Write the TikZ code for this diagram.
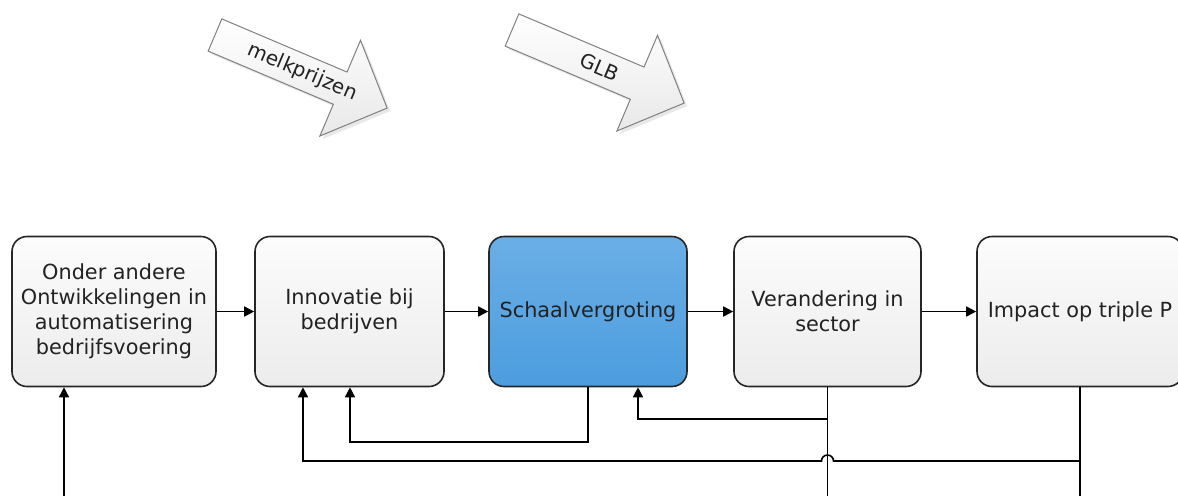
\documentclass[tikz,border=0pt]{standalone}
\usepackage{fontspec}
\setmainfont{DejaVu Sans}
\usepackage{xcolor}
\usepackage{tikz}
\usetikzlibrary{positioning,calc,arrows.meta,shadows}

\definecolor{boxtop}{HTML}{FCFCFC}
\definecolor{boxbot}{HTML}{ECECEC}
\definecolor{bluetop}{HTML}{6AAEE6}
\definecolor{bluebot}{HTML}{4C9DDE}
\definecolor{txt}{HTML}{222222}

\tikzset{
  stap/.style={draw=black!85, line width=0.8pt, rounded corners=7.5pt,
    top color=boxtop, bottom color=boxbot, minimum height=75pt,
    align=center, text=txt, font=\fontsize{10.4}{12.5}\selectfont, inner sep=2pt},
  kern/.style={stap, top color=bluetop, bottom color=bluebot},
  pijl/.style={-{Triangle[length=5pt,width=5pt]}, line width=0.8pt},
  lijn/.style={line width=0.8pt},
  blokpijl/.style={draw=black!50, line width=0.5pt, top color=white, bottom color=black!9,
    drop shadow={opacity=0.18, shadow xshift=1.5pt, shadow yshift=-1.5pt}},
}

\begin{document}
\begin{tikzpicture}[x=0.5pt, y=-0.5pt]
        \useasboundingbox (0,0) rectangle (1178,495);

        % invloeden van buiten
        \begin{scope}[shift={(215,35)}, rotate=-23]
            \draw[blokpijl] (0,-17.5) -- (136,-17.5) -- (136,-52) -- (187,0) -- (136,52) -- (136,17.5) -- (0,17.5) -- cycle;
            \node[rotate=-23, text=txt, font=\fontsize{10}{12}\selectfont] (melk) at (95,0) {melkprijzen};
        \end{scope}
        \begin{scope}[shift={(512,30)}, rotate=-23]
            \draw[blokpijl] (0,-17.5) -- (136,-17.5) -- (136,-52) -- (187,0) -- (136,52) -- (136,17.5) -- (0,17.5) -- cycle;
            \node[rotate=-23, text=txt, font=\fontsize{10}{12}\selectfont] (glb) at (95,0) {GLB};
        \end{scope}

        % keten
        \node[stap, minimum width=102pt] (ontw) at (114,311.5) {Onder andere\\Ontwikkelingen in\\automatisering\\bedrijfsvoering};
        \node[stap, minimum width=94.5pt] (innov) at (349.5,311.5) {Innovatie bij\\bedrijven};
        \node[kern, minimum width=99pt] (schaal) at (588,311.5) {Schaalvergroting};
        \node[stap, minimum width=93.5pt] (verand) at (827.5,311.5) {Verandering in\\sector};
        \node[stap, minimum width=103pt] (impact) at (1080,311.5) {Impact op triple P};

        \draw[pijl] (ontw) -- (innov);
        \draw[pijl] (innov) -- (schaal);
        \draw[pijl] (schaal) -- (verand);
        \draw[pijl] (verand) -- (impact);

        % terugkoppelingen
        \coordinate (k1) at (350,442);
        \coordinate (k2) at (638,419);
        \coordinate (k3) at (303,461);
        \coordinate (e1) at (64,500);
        \coordinate (e4) at (827.5,500);
        \coordinate (e5) at (1080,500);

        \draw[pijl] (schaal.south) |- (k1) -- (k1 |- innov.south);
        \draw[lijn] (verand.south) -- (e4);
        \draw[pijl] (verand.south |- k2) -- (k2) -- (k2 |- schaal.south);
        \draw[lijn] (impact.south) -- (e5);
        \draw[pijl] (impact.south |- k3) -- (833.5,461) arc[start angle=0, end angle=180, radius=3pt] -- (k3) -- (k3 |- innov.south);
        \draw[pijl] (e1) -- (e1 |- ontw.south);
    \end{tikzpicture}
\end{document}
